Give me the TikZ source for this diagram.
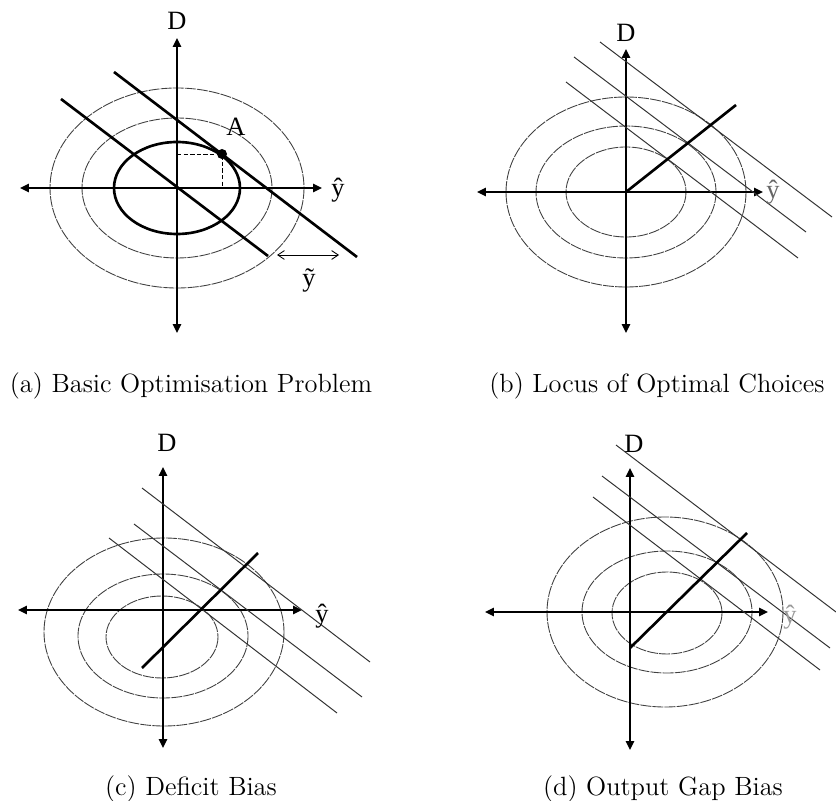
\documentclass[tikz,border=0pt]{standalone}
\usepackage{fontspec}
\newfontfamily\timesfont{Liberation Serif}
\usetikzlibrary{arrows.meta}

\begin{document}
\begin{tikzpicture}[x=0.4545pt, y=-0.4545pt,
  axis/.style={line width=0.6pt, {Triangle[length=4pt,width=3.8pt]}-{Triangle[length=4pt,width=3.8pt]}},
  contour/.style={black!75, line width=0.4pt, dash pattern=on 5pt off 0.5pt},
  budget/.style={black!80, line width=0.45pt},
  locus/.style={line width=1.2pt},
  lbl/.style={font=\timesfont\large, inner sep=0pt},
  subcap/.style={font=\large, anchor=base, inner sep=0pt}]
  \useasboundingbox (0,0) rectangle (836,801);

  % (a) basic problem
  \coordinate (Oa) at (177,188);
  \coordinate (Na) at (177,38);  \coordinate (Sa) at (177,333);
  \coordinate (Wa) at (20,188);  \coordinate (Ea) at (322,188);
  \draw[contour] (Oa) ellipse [x radius=127, y radius=100];
  \draw[contour] (Oa) ellipse [x radius=95, y radius=70];
  \draw[locus] (Oa) ellipse [x radius=63, y radius=46];
  \draw[axis] (Sa) -- (Na);
  \draw[axis] (Wa) -- (Ea);
  \draw[locus] (61,99) -- (268,256);
  \draw[locus] (114,72) -- (357,257);
  \coordinate (A) at (222,154);
  \draw[line width=0.4pt, dash pattern=on 2pt off 1pt] (177,154) -- (A) -- (222,188);
  \fill (A) circle (5);
  \coordinate (Ta) at (277,255); \coordinate (Tb) at (339,255);
  \draw[line width=0.4pt, {Straight Barb[length=3pt,width=4pt]}-{Straight Barb[length=3pt,width=4pt]}] (Ta) -- (Tb);
  \node[lbl] (Da) at (177,21) {D};
  \node[lbl] (ya) at (338,190) {ŷ};
  \node[lbl] (lA) at (236,127) {A};
  \node[lbl] (ty) at (309,280) {ỹ};
  \node[subcap] (capa) at (191,393) {(a) Basic Optimisation Problem};

  % (b) locus
  \coordinate (Ob) at (626,192);
  \coordinate (Nb) at (626,49);  \coordinate (Sb) at (626,333);
  \coordinate (Wb) at (477,192); \coordinate (Eb) at (763,192);
  \draw[contour] (Ob) ellipse [x radius=120, y radius=95];
  \draw[contour] (Ob) ellipse [x radius=90, y radius=66];
  \draw[contour] (Ob) ellipse [x radius=60, y radius=45];
  \draw[axis] (Sb) -- (Nb);
  \draw[axis] (Wb) -- (Eb);
  \draw[budget] (600,42) -- (832,217);
  \draw[budget] (574,57) -- (806,232);
  \draw[budget] (566,82) -- (798,258);
  \draw[locus] (Ob) -- (736,105);
  \node[lbl] (Db) at (626,33) {D};
  \node[lbl, text=black!60] (yb) at (773,192) {ŷ};
  \node[subcap] (capb) at (657,393) {(b) Locus of Optimal Choices};

  % (c) deficit bias
  \coordinate (Oc) at (163,610);
  \coordinate (Nc) at (163,467); \coordinate (Sc) at (163,748);
  \coordinate (Wc) at (18,610);  \coordinate (Ec) at (302,610);
  \draw[contour] (164,632) ellipse [x radius=120, y radius=94];
  \draw[contour] (163,636) ellipse [x radius=85, y radius=62];
  \draw[contour] (162,637) ellipse [x radius=56, y radius=41];
  \draw[axis] (Sc) -- (Nc);
  \draw[axis] (Wc) -- (Ec);
  \draw[budget] (142,488) -- (370,662);
  \draw[budget] (134,524) -- (362,697);
  \draw[budget] (109,538) -- (337,713);
  \draw[locus] (142,668) -- (258,553);
  \node[lbl] (Dc) at (167,443) {D};
  \node[lbl] (yc) at (322,616) {ŷ};
  \node[subcap] (capc) at (191,795) {(c) Deficit Bias};

  % (d) output gap bias
  \coordinate (Od) at (630,612);
  \coordinate (Nd) at (630,468); \coordinate (Sd) at (630,750);
  \coordinate (Wd) at (485,612); \coordinate (Ed) at (768,612);
  \draw[contour] (665,612) ellipse [x radius=118, y radius=95];
  \draw[contour] (667,612) ellipse [x radius=85, y radius=61];
  \draw[contour] (667,613) ellipse [x radius=55, y radius=41];
  \draw[axis] (Sd) -- (Nd);
  \draw[axis] (Wd) -- (Ed);
  \draw[budget] (616,445) -- (836,612);
  \draw[budget] (602,476) -- (830,648);
  \draw[budget] (593,497) -- (820,670);
  \draw[locus] (630,648) -- (747,533);
  \node[lbl] (Dd) at (634,444) {D};
  \node[lbl, text=black!40] (yd) at (790,617) {ŷ};
  \node[subcap] (capd) at (663,795) {(d) Output Gap Bias};
\end{tikzpicture}
\end{document}
